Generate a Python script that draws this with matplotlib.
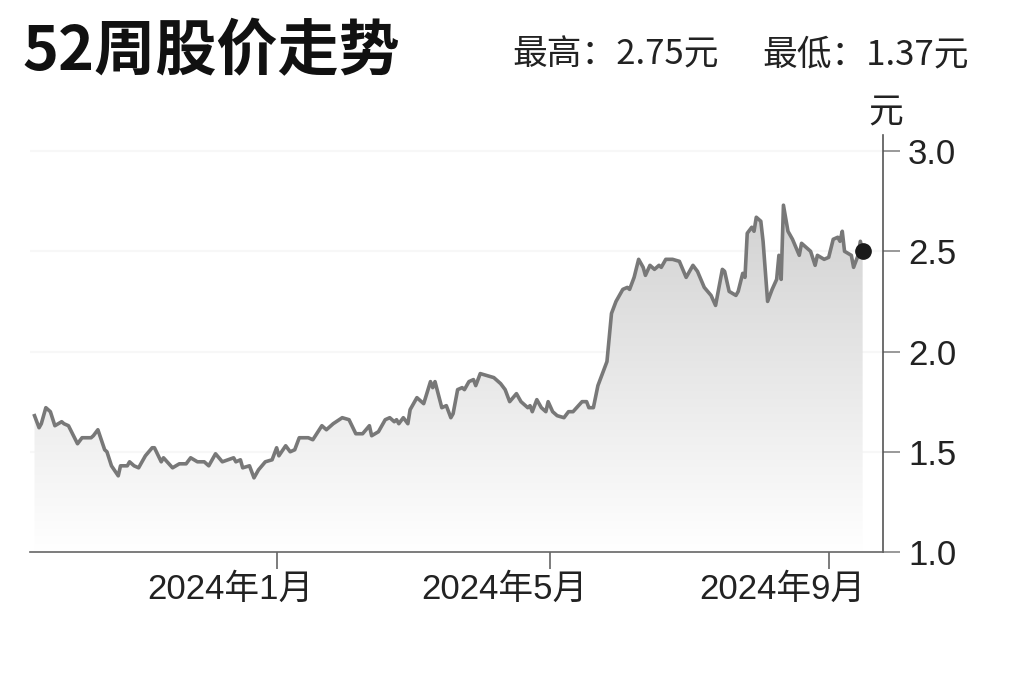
import numpy as np
import pandas as pd
import matplotlib
matplotlib.use("Agg")
import matplotlib.pyplot as plt
import matplotlib.dates as mdates
from matplotlib.transforms import ScaledTranslation

plt.rcParams['font.family'] = ['Liberation Sans', 'Noto Sans CJK SC', 'DejaVu Sans']

# 52-week closing prices
dates = [
    "2023-09-16", "2023-09-18", "2023-09-19", "2023-09-21", "2023-09-23", "2023-09-25",
    "2023-09-28", "2023-09-29", "2023-10-01", "2023-10-05", "2023-10-07", "2023-10-11",
    "2023-10-12", "2023-10-14", "2023-10-17", "2023-10-18", "2023-10-20", "2023-10-23",
    "2023-10-24", "2023-10-27", "2023-10-28", "2023-10-30", "2023-11-01", "2023-11-04",
    "2023-11-07", "2023-11-08", "2023-11-11", "2023-11-12", "2023-11-16", "2023-11-19",
    "2023-11-22", "2023-11-24", "2023-11-27", "2023-11-30", "2023-12-02", "2023-12-05",
    "2023-12-08", "2023-12-13", "2023-12-14", "2023-12-16", "2023-12-17", "2023-12-20",
    "2023-12-22", "2023-12-24", "2023-12-27", "2023-12-30", "2024-01-01", "2024-01-02",
    "2024-01-05", "2024-01-07", "2024-01-09", "2024-01-11", "2024-01-15", "2024-01-17",
    "2024-01-21", "2024-01-23", "2024-01-26", "2024-01-30", "2024-02-02", "2024-02-05",
    "2024-02-08", "2024-02-11", "2024-02-12", "2024-02-15", "2024-02-18", "2024-02-20",
    "2024-02-22", "2024-02-23", "2024-02-24", "2024-02-26", "2024-02-28", "2024-02-29",
    "2024-03-03", "2024-03-06", "2024-03-09", "2024-03-10", "2024-03-11", "2024-03-14",
    "2024-03-16", "2024-03-18", "2024-03-19", "2024-03-21", "2024-03-23", "2024-03-24",
    "2024-03-26", "2024-03-28", "2024-03-29", "2024-03-31", "2024-04-03", "2024-04-06",
    "2024-04-09", "2024-04-11", "2024-04-13", "2024-04-16", "2024-04-18", "2024-04-21",
    "2024-04-22", "2024-04-23", "2024-04-25", "2024-04-27", "2024-04-29", "2024-04-30",
    "2024-05-02", "2024-05-04", "2024-05-07", "2024-05-09", "2024-05-11", "2024-05-15",
    "2024-05-17", "2024-05-18", "2024-05-20", "2024-05-22", "2024-05-24", "2024-05-26",
    "2024-05-28", "2024-05-30", "2024-06-02", "2024-06-04", "2024-06-05", "2024-06-07",
    "2024-06-09", "2024-06-11", "2024-06-12", "2024-06-14", "2024-06-16", "2024-06-18",
    "2024-06-19", "2024-06-21", "2024-06-24", "2024-06-27", "2024-06-30", "2024-07-03",
    "2024-07-05", "2024-07-08", "2024-07-11", "2024-07-13", "2024-07-16", "2024-07-17",
    "2024-07-19", "2024-07-22", "2024-07-23", "2024-07-25", "2024-07-26", "2024-07-27",
    "2024-07-29", "2024-07-30", "2024-07-31", "2024-08-02", "2024-08-03", "2024-08-05",
    "2024-08-07", "2024-08-09", "2024-08-10", "2024-08-11", "2024-08-12", "2024-08-14",
    "2024-08-16", "2024-08-19", "2024-08-20", "2024-08-23", "2024-08-24", "2024-08-26",
    "2024-08-27", "2024-08-30", "2024-09-01", "2024-09-03", "2024-09-05", "2024-09-06",
    "2024-09-07", "2024-09-08", "2024-09-11", "2024-09-12", "2024-09-14", "2024-09-15",
    "2024-09-16",
]
prices = [
    1.68, 1.62, 1.64, 1.72, 1.70, 1.63,
    1.65, 1.64, 1.63, 1.54, 1.57, 1.57,
    1.58, 1.61, 1.51, 1.50, 1.43, 1.38,
    1.43, 1.43, 1.45, 1.43, 1.42, 1.48,
    1.52, 1.52, 1.45, 1.47, 1.42, 1.44,
    1.44, 1.47, 1.45, 1.45, 1.43, 1.49,
    1.45, 1.47, 1.45, 1.46, 1.42, 1.43,
    1.37, 1.41, 1.45, 1.46, 1.52, 1.48,
    1.53, 1.50, 1.51, 1.57, 1.57, 1.56,
    1.63, 1.61, 1.64, 1.67, 1.66, 1.59,
    1.59, 1.63, 1.58, 1.60, 1.66, 1.67,
    1.65, 1.66, 1.64, 1.67, 1.64, 1.71,
    1.77, 1.74, 1.85, 1.82, 1.85, 1.72,
    1.73, 1.67, 1.69, 1.81, 1.82, 1.81,
    1.85, 1.86, 1.83, 1.89, 1.88, 1.87,
    1.84, 1.81, 1.75, 1.79, 1.75, 1.72,
    1.73, 1.70, 1.76, 1.72, 1.70, 1.75,
    1.70, 1.68, 1.67, 1.70, 1.70, 1.75,
    1.75, 1.72, 1.72, 1.83, 1.89, 1.95,
    2.19, 2.25, 2.31, 2.32, 2.31, 2.37,
    2.46, 2.42, 2.38, 2.43, 2.41, 2.43,
    2.42, 2.46, 2.46, 2.45, 2.37, 2.43,
    2.40, 2.32, 2.28, 2.23, 2.41, 2.40,
    2.30, 2.28, 2.30, 2.39, 2.37, 2.59,
    2.62, 2.60, 2.67, 2.65, 2.55, 2.25,
    2.31, 2.36, 2.48, 2.36, 2.73, 2.60,
    2.56, 2.48, 2.54, 2.51, 2.50, 2.43,
    2.48, 2.46, 2.47, 2.56, 2.57, 2.55,
    2.60, 2.50, 2.48, 2.42, 2.48, 2.55,
    2.50,
]

high_text = "最高：2.75元"
low_text = "最低：1.37元"
title = "52周股价走势"
y_ticks = [1.0, 1.5, 2.0, 2.5, 3.0]
x_ticks = ["2024-01-01", "2024-05-01", "2024-09-01"]
x_labels = ["2024年1月", "2024年5月", "2024年9月"]

x = pd.to_datetime(dates)
y = np.array(prices)

fig = plt.figure(figsize=(10.24, 6.82), dpi=100)
ax = fig.add_axes([0.0293, 0.1906, 0.833, 0.6114])

xmin = pd.Timestamp("2023-09-14")
xmax = pd.Timestamp("2024-09-25")
ax.set_xlim(xmin, xmax)
ax.set_ylim(1.0, 3.08)

# faint horizontal grid
for t in y_ticks[1:]:
    ax.axhline(t, color="#f7f7f7", lw=1.5, zorder=0)

# gradient fill under the line
poly = ax.fill_between(x, y, 1.0, facecolor="none", edgecolor="none")
top = 2.75
grad = np.linspace(0, 1, 256)[:, None]
shade = 1 - 0.18 * grad
img = np.dstack([shade, shade, shade])
im = ax.imshow(img, extent=[mdates.date2num(xmin), mdates.date2num(xmax), 1.0, top],
               origin="lower", aspect="auto", zorder=1)
im.set_clip_path(poly.get_paths()[0], transform=ax.transData)

ax.plot(x, y, color="#787878", lw=2.6, zorder=3, solid_joinstyle="round")
ax.plot(x[-1], y[-1], "o", color="#1a1a1a", markersize=11, zorder=4)

# axes styling
for s in ["top", "left"]:
    ax.spines[s].set_visible(False)
ax.spines["bottom"].set_color("#666666")
ax.spines["right"].set_color("#555555")
ax.spines["bottom"].set_linewidth(1.2)
ax.spines["right"].set_linewidth(1.2)

ax.yaxis.tick_right()
ax.set_yticks(y_ticks)
ax.set_yticklabels([f"{t:.1f}" for t in y_ticks])
ax.tick_params(axis="y", length=12, width=1.2, color="#888888", pad=6,
               labelsize=25, labelcolor="#222222")

ax.set_xticks(pd.to_datetime(x_ticks))
ax.set_xticklabels(x_labels)
ax.tick_params(axis="x", length=12, width=1.2, color="#666666", pad=3,
               labelsize=25, labelcolor="#222222")
shift = ScaledTranslation(-46 / 100, 0, fig.dpi_scale_trans)
for lab in ax.get_xticklabels():
    lab.set_transform(lab.get_transform() + shift)

# texts
fig.text(22 / 1024, 1 - 52 / 682, title, fontsize=44, fontweight="bold",
         family=["Noto Sans CJK SC"], va="center", ha="left", color="#111111")
fig.text(512 / 1024, 1 - 55 / 682, high_text, fontsize=25,
         family=["Noto Sans CJK SC"], va="center", ha="left", color="#222222")
fig.text(762 / 1024, 1 - 55 / 682, low_text, fontsize=25,
         family=["Noto Sans CJK SC"], va="center", ha="left", color="#222222")
fig.text(886 / 1024, 1 - 113 / 682, "元", fontsize=25,
         family=["Noto Sans CJK SC"], va="center", ha="center", color="#222222")

fig.savefig("out.png", dpi=100)
